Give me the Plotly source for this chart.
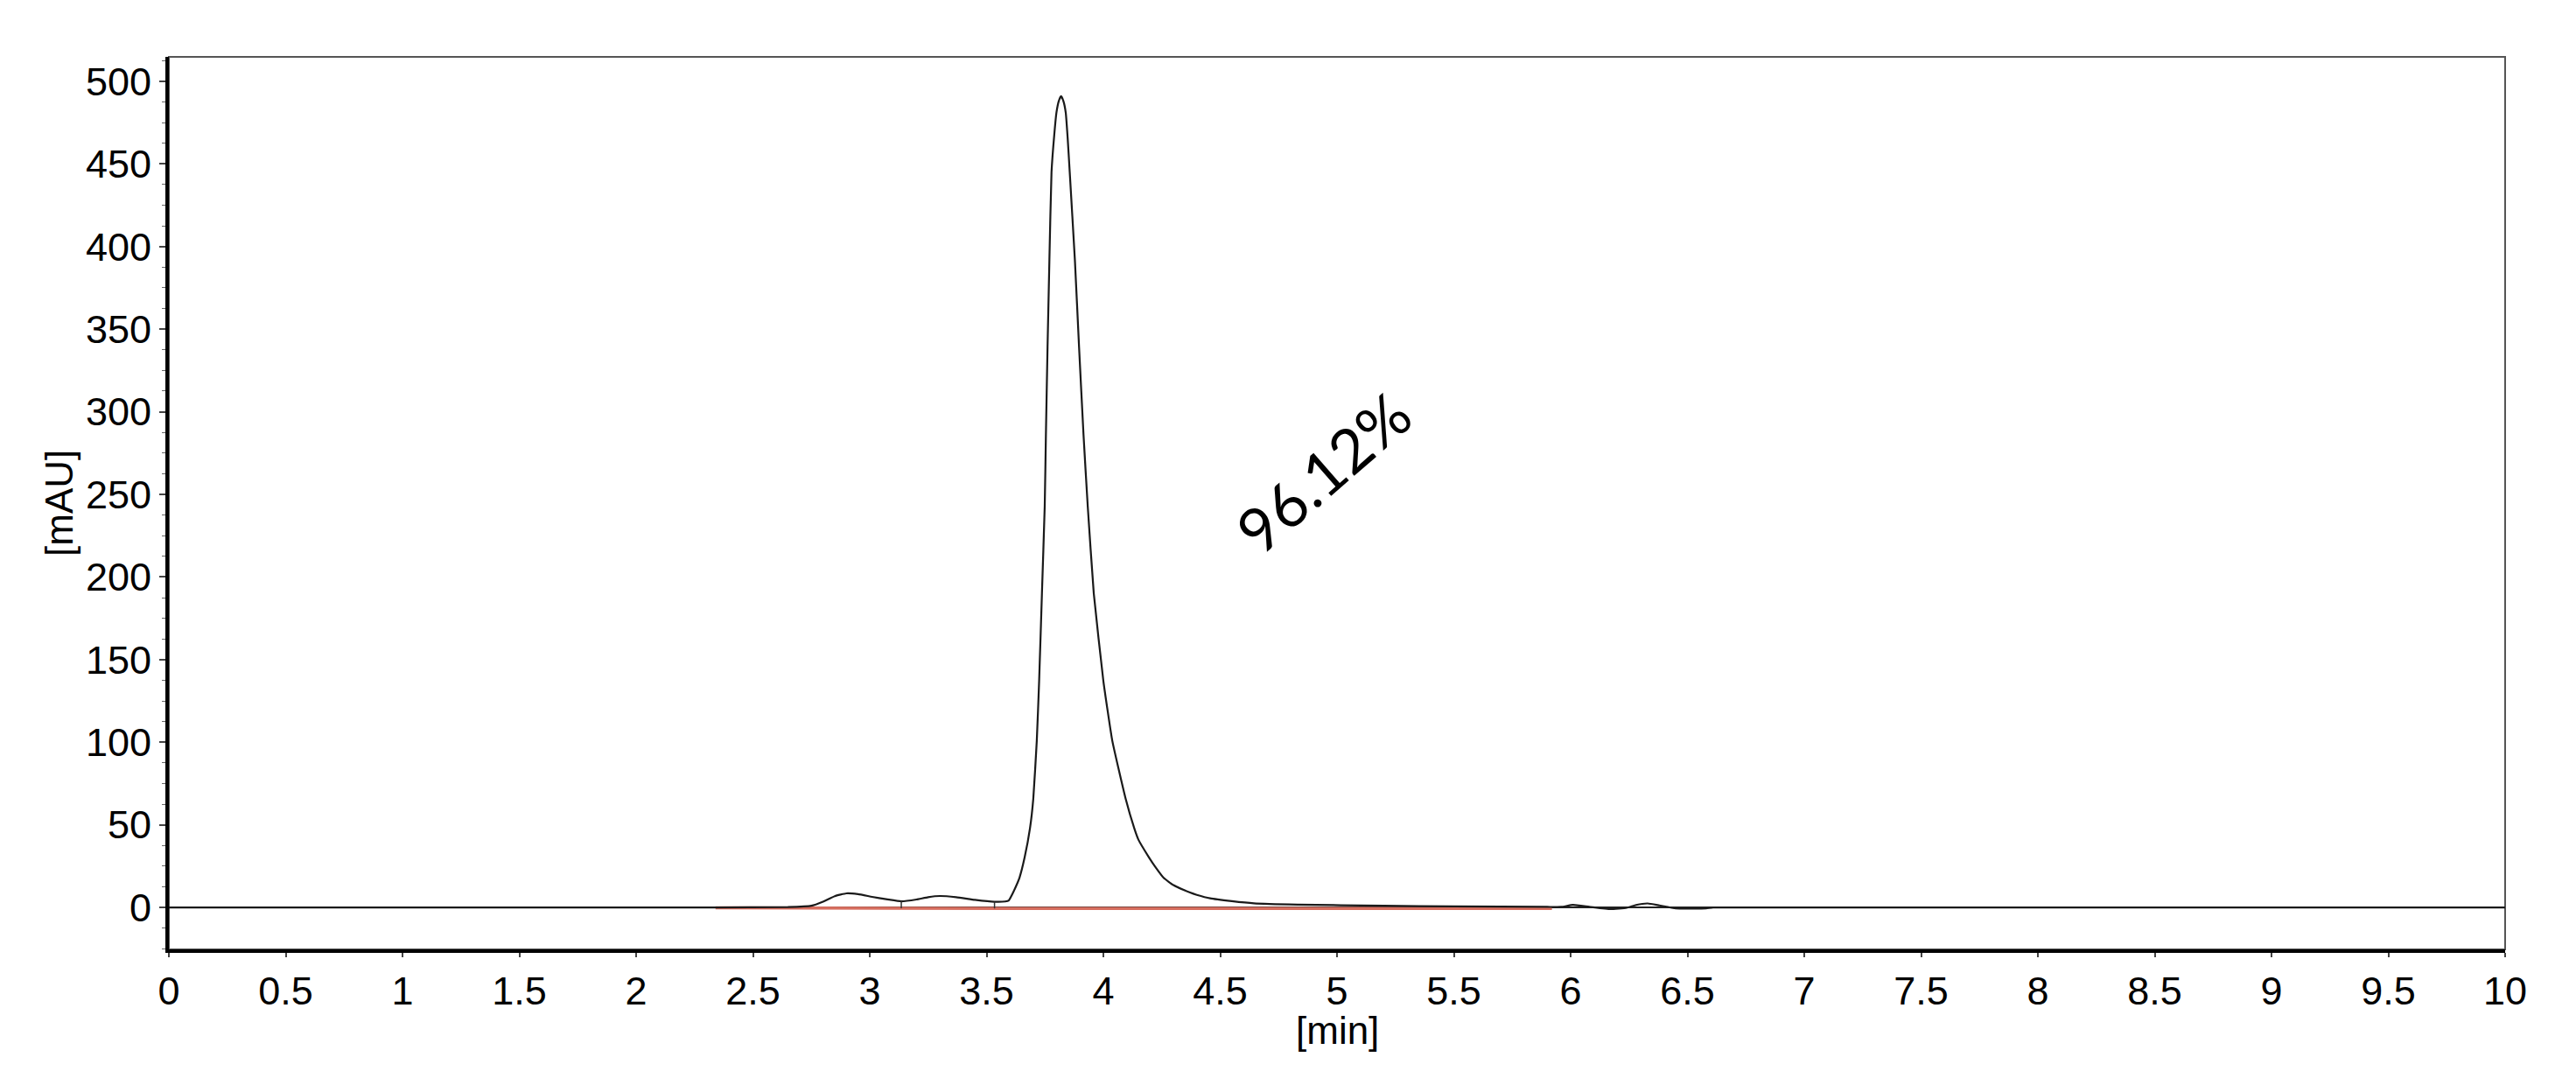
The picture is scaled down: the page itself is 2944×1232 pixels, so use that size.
import plotly.graph_objects as go

# chromatogram trace
time_min = [0.0, 2.34, 2.65, 2.75, 2.80, 2.85, 2.90, 2.95, 3.01, 3.07, 3.135,
            3.20, 3.25, 3.30, 3.37, 3.45, 3.534, 3.58, 3.595, 3.61, 3.625,
            3.641, 3.663, 3.686, 3.700, 3.715, 3.725, 3.737, 3.749, 3.754,
            3.761, 3.769, 3.778, 3.790, 3.799, 3.809, 3.819, 3.829, 3.839,
            3.847, 3.856, 3.878, 3.896, 3.915, 3.933, 3.959, 4.0, 4.038,
            4.095, 4.132, 4.15, 4.195, 4.22, 4.258, 4.30, 4.371, 4.40, 4.457,
            4.55, 4.644, 4.831, 5.2, 5.5, 5.9, 5.96, 6.01, 6.08, 6.17, 6.24,
            6.28, 6.33, 6.38, 6.45, 6.58, 6.61, 10.0]
signal_mau = [0.0, 0.0, 0.2, 1.0, 3.5, 6.8, 8.5, 8.0, 6.4, 5.0, 3.7,
              4.8, 6.2, 6.9, 6.2, 4.6, 3.4, 3.6, 4.2, 8.0, 12.5,
              18.0, 30.3, 48.0, 65.8, 101.0, 137.0, 190.0, 243.0, 286.0,
              339.0, 392.0, 445.0, 468.0, 481.0, 488.0, 491.0, 488.0, 481.0,
              466.0, 445.0, 392.0, 339.0, 286.0, 243.0, 190.0, 137.0, 101.0,
              66.0, 48.0, 41.0, 30.3, 25.0, 17.9, 13.5, 9.0, 7.6, 5.5,
              3.8, 2.5, 1.7, 1.0, 0.6, 0.3, 0.3, 1.5, 0.4, -1.0, -0.2,
              1.5, 2.4, 1.2, -0.6, -0.6, 0.0, 0.0]

# integration baseline (red) and peak drop lines
base_t = [2.34, 3.6, 5.92]
base_v = [-0.3, -0.6, -0.6]
drop_t = [3.135, 3.534]
drop_top = [3.7, 3.4]
drop_bottom = [-0.5, -0.6]

area_label = "96.12%"
label_t = 4.94
label_v = 264

fig = go.Figure()

drop_x, drop_y = [], []
for t, top, bot in zip(drop_t, drop_top, drop_bottom):
    drop_x += [t, t, None]
    drop_y += [bot, top, None]

fig.add_trace(go.Scatter(x=base_t, y=base_v, mode="lines",
                         line=dict(color="rgb(215,110,95)", width=3.5),
                         hoverinfo="skip", showlegend=False))
fig.add_trace(go.Scatter(x=time_min, y=signal_mau, mode="lines",
                         line=dict(color="#1a1a1a", width=2.2,
                                   shape="spline", smoothing=0.4),
                         showlegend=False))
fig.add_trace(go.Scatter(x=drop_x, y=drop_y, mode="lines",
                         line=dict(color="#333333", width=1.5),
                         hoverinfo="skip", showlegend=False))

fig.add_annotation(x=label_t, y=label_v, text=area_label, showarrow=False,
                   textangle=-41, font=dict(family="Lato", size=70, color="black"))

# axis titles placed by hand
fig.add_annotation(x=0, y=0.5, xref="paper", yref="paper", text="[mAU]",
                   showarrow=False, textangle=-90, xshift=-126,
                   xanchor="center", yanchor="middle",
                   font=dict(family="Liberation Sans", size=44, color="black"))
fig.add_annotation(x=0.5, y=0, xref="paper", yref="paper", text="[min]",
                   showarrow=False, yshift=-92,
                   xanchor="center", yanchor="middle",
                   font=dict(family="Liberation Sans", size=44, color="black"))

# thin grey frame on top / right
fig.add_shape(type="rect", xref="paper", yref="paper", x0=0, y0=0, x1=1, y1=1,
              line=dict(color="#555555", width=2), layer="below")

fig.update_xaxes(range=[0, 10], tickmode="linear", tick0=0, dtick=0.5,
                 showgrid=False, zeroline=False,
                 showline=True, linecolor="black", linewidth=4,
                 ticks="outside", ticklen=5, tickwidth=1.5, tickcolor="#444444",
                 tickfont=dict(family="Liberation Sans", size=45, color="black"))
fig.update_yaxes(range=[-25.4, 514.8], tickmode="linear", tick0=0, dtick=50,
                 showgrid=False, zeroline=True, zerolinecolor="#222222",
                 zerolinewidth=2,
                 showline=True, linecolor="black", linewidth=4,
                 ticks="outside", ticklen=7, tickwidth=1.5, tickcolor="#444444",
                 minor=dict(ticks="outside", dtick=12.5, ticklen=4,
                            tickwidth=1, tickcolor="#666666"),
                 tickfont=dict(family="Liberation Sans", size=45, color="black"))

# the page body adds 8px around the plot, so size and margins allow for it
fig.update_layout(width=2928, height=1216,
                  margin=dict(l=185, r=73, t=57, b=139),
                  plot_bgcolor="white", paper_bgcolor="white")

fig.write_html("out.html")
